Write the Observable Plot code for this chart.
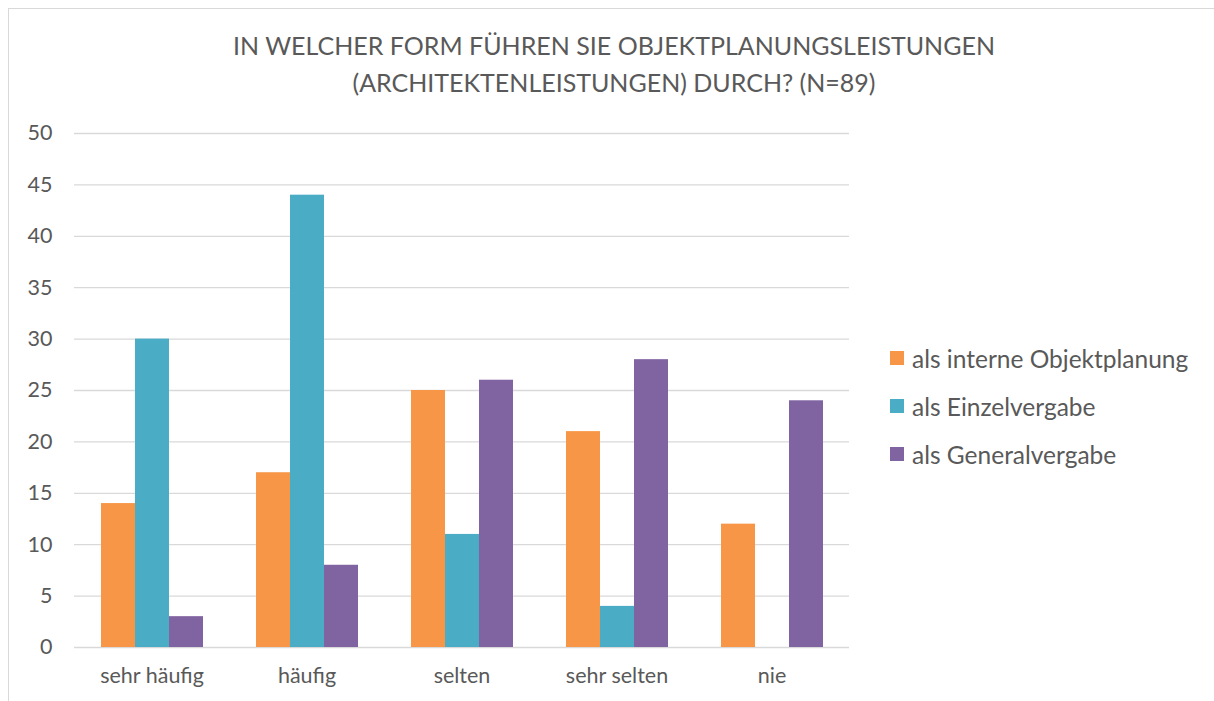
<!DOCTYPE html>
<html><head><meta charset="utf-8">
<script src="https://cdn.jsdelivr.net/npm/d3@7"></script>
<script src="https://cdn.jsdelivr.net/npm/@observablehq/plot@0.6"></script>
<style>
body{margin:0;background:#fff;font-family:Lato,"Open Sans",sans-serif;color:#595959;}
#wrap{position:relative;width:1214px;height:701px;overflow:hidden;}
#border{position:absolute;left:8px;top:8px;width:1300px;height:800px;border:1.5px solid #d9d9d9;box-sizing:border-box;}
#title{position:absolute;left:0;width:1228px;top:27px;text-align:center;font-size:25px;line-height:37px;color:#595959;}
#chart{position:absolute;left:0;top:0;}
#legend{position:absolute;left:890px;top:334px;font-size:24.5px;color:#595959;}
.li{display:flex;align-items:center;height:48px;}
.sw{width:14px;height:14px;margin-right:8px;}
</style></head>
<body>
<div id="wrap">
<div id="border"></div>
<div id="title">IN WELCHER FORM FÜHREN SIE OBJEKTPLANUNGSLEISTUNGEN<br>(ARCHITEKTENLEISTUNGEN) DURCH? (N=89)</div>
<div id="chart"></div>
<div id="legend"></div>
</div>
<script>
const categories = ["sehr häufig", "häufig", "selten", "sehr selten", "nie"];
const series = ["als interne Objektplanung", "als Einzelvergabe", "als Generalvergabe"];
const internValues = [14, 17, 25, 21, 12];
const einzelValues = [30, 44, 11, 4, 0];
const generalValues = [3, 8, 26, 28, 24];
const colors = ["#F79646", "#4BACC6", "#8064A2"];

const valueLists = [internValues, einzelValues, generalValues];
const data = [];
categories.forEach((c, i) => {
  series.forEach((s, j) => data.push({cat: c, series: s, value: valueLists[j][i]}));
});

const chart = Plot.plot({
  width: 1214,
  height: 701,
  marginLeft: 72,
  marginRight: 364,
  marginTop: 133,
  marginBottom: 54,
  style: {fontFamily: "Lato, 'Open Sans', sans-serif", fontSize: "21.5px", color: "#595959", background: "transparent", overflow: "visible"},
  fx: {domain: categories, padding: 0, label: null, axis: "bottom", tickSize: 0, tickPadding: 20},
  x: {domain: series, paddingInner: 0, paddingOuter: 0.72, axis: null},
  y: {domain: [0, 50], ticks: 10, label: null, tickSize: 0, tickPadding: 22},
  color: {domain: series, range: colors},
  marks: [
    Plot.ruleY(d3.range(0, 51, 5), {stroke: "#d9d9d9", strokeWidth: 1.3}),
    Plot.barY(data, {fx: "cat", x: "series", y: "value", fill: "series"})
  ]
});
document.getElementById("chart").appendChild(chart);

const legend = document.getElementById("legend");
series.forEach((s, i) => {
  const row = document.createElement("div");
  row.className = "li";
  const sw = document.createElement("div");
  sw.className = "sw";
  sw.style.background = colors[i];
  const t = document.createElement("span");
  t.textContent = s;
  row.appendChild(sw); row.appendChild(t);
  legend.appendChild(row);
});
</script>
</body></html>
